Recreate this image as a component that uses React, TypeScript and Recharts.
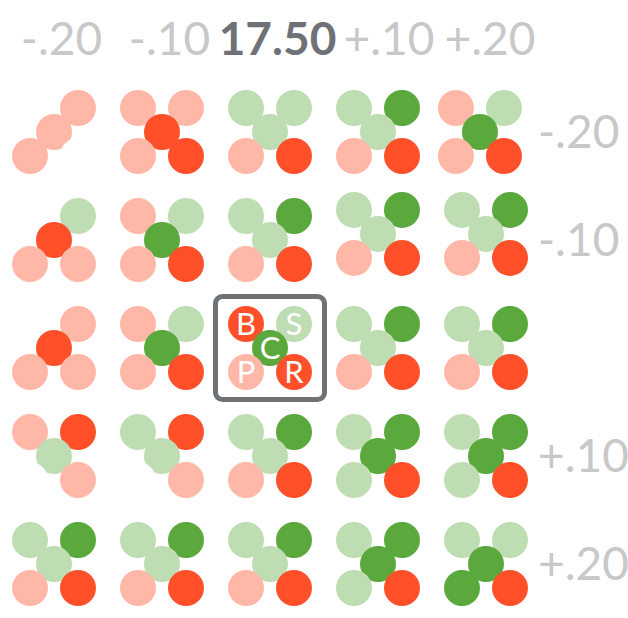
import React from "react";
import { ScatterChart, Scatter, XAxis, YAxis } from "recharts";

// column / row values (change in each factor)
const colValues = [-0.2, -0.1, 0, 0.1, 0.2];
const rowValues = [-0.2, -0.1, 0, 0.1, 0.2];
const topLabels = ["-.20", "-.10", "17.50", "+.10", "+.20"];
const sideTicks = [-0.2, -0.1, 0.1, 0.2];
const sideLabels = ["-.20", "-.10", "+.10", "+.20"];

// per cell, order B S C P R
// n = none, r = pale red, R = red, g = pale green, G = green
const row0 = ["nrrrn", "rrRrR", "gggrR", "gGgrR", "rgGrR"];
const row1 = ["ngRrr", "rgGrR", "gGgrR", "gGgrR", "gGgrR"];
const row2 = ["nrRrr", "rgGrR", "RgGrR", "gGgrR", "gGgrR"];
const row3 = ["rRgnr", "gRgnr", "gGgrR", "gGGgR", "gGGgR"];
const row4 = ["gGgrR", "gGgrR", "gGgrR", "gGGgR", "ggGGR"];

// small nudges of a few cells off the grid
const xNudge = [
  [0, 0, 0, 0, -0.0056],
  [0, 0, 0, 0, 0],
  [0, 0, 0, 0, 0],
  [0, 0, 0, 0, 0],
  [0, 0, 0, 0, 0],
];
const yNudge = [
  [0, 0, 0, 0, 0],
  [0, 0, 0, -0.0056, -0.0056],
  [0, 0, 0, 0, 0],
  [0, 0, 0, 0, 0],
  [0, 0, 0, 0, 0],
];

const legendLetters = ["B", "S", "C", "P", "R"];

const COLORS: Record<string, string> = {
  n: "#ffffff",
  r: "#ffb8a7",
  R: "#ff5029",
  g: "#bfddb3",
  G: "#5ba83d",
};

const rows = [row0, row1, row2, row3, row4];
const cells = rows.flatMap((row, ri) =>
  row.map((code, ci) => ({
    x: colValues[ci] + xNudge[ri][ci],
    y: rowValues[ri] + yNudge[ri][ci],
    code,
    legend: ri === 2 && ci === 2,
  }))
);

const R = 18;
const OFF = 24;
const spots = [
  [-OFF, -OFF],
  [OFF, -OFF],
  [0, 0],
  [-OFF, OFF],
  [OFF, OFF],
];

function Glyph(props: any) {
  const { cx, cy, payload } = props;
  if (cx == null || cy == null) return null;
  const code: string = payload.code;
  return (
    <g>
      {payload.legend && (
        <rect
          x={cx - 54.5}
          y={cy - 51.5}
          width={109}
          height={103}
          rx={7}
          fill="none"
          stroke="#6f7275"
          strokeWidth={5}
        />
      )}
      {spots.map(([dx, dy], i) => (
        <g key={i}>
          <circle cx={cx + dx} cy={cy + dy} r={R} fill={COLORS[code[i]]} />
          {payload.legend && (
            <text
              x={cx + dx}
              y={cy + dy}
              dy={11}
              textAnchor="middle"
              fill="#ffffff"
              fontSize={31}
              fontFamily="Lato, sans-serif"
            >
              {legendLetters[i]}
            </text>
          )}
        </g>
      ))}
    </g>
  );
}

const topNudge = [7.5, 7.5, 7.5, 11, 4];

function TopTick(props: any) {
  const { x, y, payload, index } = props;
  const bold = payload.value === 0;
  return (
    <text
      x={x + topNudge[index]}
      y={y - 23}
      textAnchor="middle"
      fontSize={46}
      fontFamily="Lato, sans-serif"
      fontWeight={bold ? 700 : 400}
      fill={bold ? "#6e7276" : "#c8c8c8"}
    >
      {topLabels[index]}
    </text>
  );
}

function SideTick(props: any) {
  const { x, y, index } = props;
  return (
    <text
      x={x - 2}
      y={y + 16}
      textAnchor="start"
      fontSize={46}
      fontFamily="Lato, sans-serif"
      fill="#c8c8c8"
    >
      {sideLabels[index]}
    </text>
  );
}

export default function App() {
  return (
    <div style={{ position: "absolute", left: 0, top: 0, background: "#fff" }}>
      <ScatterChart
        width={628}
        height={618}
        margin={{ top: 0, right: 0, bottom: 0, left: 0 }}
      >
        <XAxis
          type="number"
          dataKey="x"
          orientation="top"
          domain={[-0.25, 0.25]}
          ticks={colValues}
          interval={0}
          height={78}
          axisLine={false}
          tickLine={false}
          tickSize={0}
          tickMargin={0}
          tick={<TopTick />}
        />
        <YAxis
          type="number"
          dataKey="y"
          orientation="right"
          domain={[-0.25, 0.25]}
          reversed
          ticks={sideTicks}
          interval={0}
          width={88}
          axisLine={false}
          tickLine={false}
          tickSize={0}
          tickMargin={0}
          tick={<SideTick />}
        />
        <Scatter data={cells} shape={<Glyph />} isAnimationActive={false} />
      </ScatterChart>
    </div>
  );
}
